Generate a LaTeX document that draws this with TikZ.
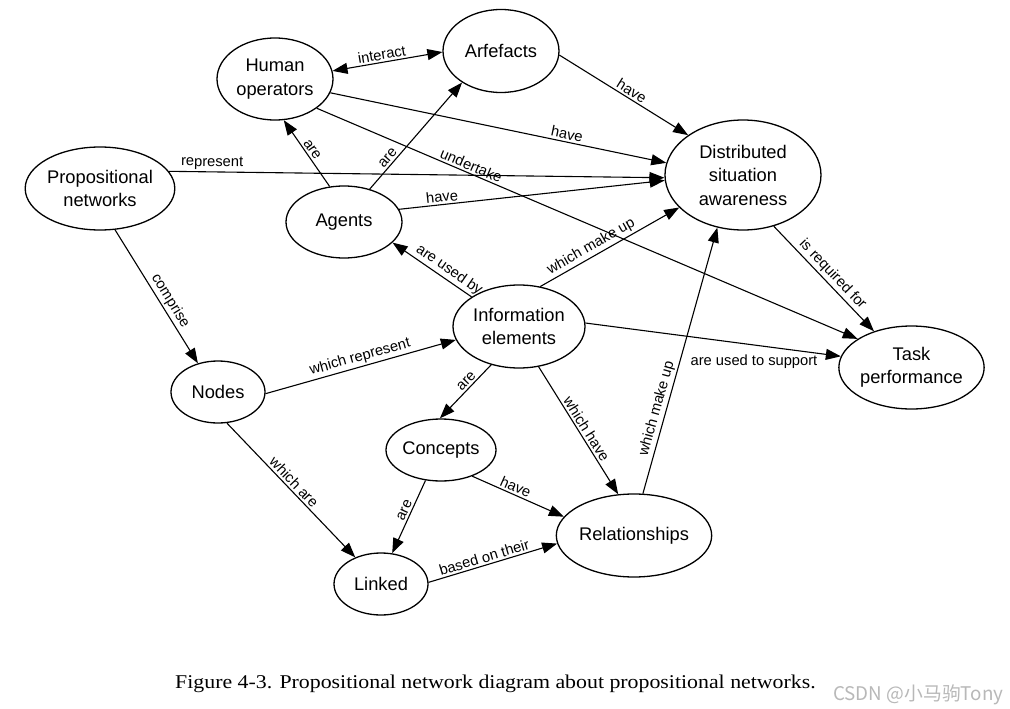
\documentclass[tikz,border=0pt]{standalone}
\usepackage{fontspec}
\setmainfont{Liberation Sans}
\newfontfamily\capfont[FakeStretch=1.12]{Liberation Serif}
\newfontfamily\cjkfont{Noto Sans CJK SC}
\usetikzlibrary{shapes.geometric,arrows.meta}
\begin{document}
\begin{tikzpicture}[x=1pt,y=-1pt,
  el/.style={draw, ellipse, line width=1.3pt, inner sep=0pt, align=center,
    font=\fontsize{18.3}{23.5}\selectfont},
  arr/.style={line width=1.1pt, -{Triangle[length=15pt,width=11pt]}},
  arrtwo/.style={line width=1.1pt, {Triangle[length=15pt,width=11pt]}-{Triangle[length=15pt,width=11pt]}},
  lab/.style={font=\fontsize{14.7}{16}\selectfont, sloped, above, inner sep=2pt}]
\useasboundingbox[fill=white] (0,0) rectangle (1010,709);

% nodes
\node[el, minimum width=116, minimum height=82] (ho) at (275,79) {Human\\operators};
\node[el, minimum width=116, minimum height=83] (af) at (501,51) {Arfefacts};
\node[el, minimum width=156, minimum height=110] (dsa) at (743,175) {Distributed\\situation\\awareness};
\node[el, minimum width=131, minimum height=83] (tp) at (911.5,367.5) {Task\\performance};
\node[el, minimum width=132, minimum height=83] (pn) at (100,188.5) {Propositional\\networks};
\node[el, minimum width=116, minimum height=72] (ag) at (344,222) {Agents};
\node[el, minimum width=94, minimum height=62] (nd) at (218,392) {Nodes};
\node[el, minimum width=132, minimum height=83] (ie) at (519,326.5) {Information\\elements};
\node[el, minimum width=110, minimum height=62] (co) at (441,450) {Concepts};
\node[el, minimum width=132, minimum height=83] (rel) at (634,535.5) {Relationships};
\node[el, minimum width=94, minimum height=62] (li) at (381,584) {Linked};

% connectors
\draw[arrtwo] (ho.8) -- (af.181) node[lab,pos=.46]{interact};
\draw[arr] (af.-4) -- (dsa.144) node[lab,pos=.53]{have};
\draw[arr] (ho.-14) -- (dsa.171) node[lab,pos=.70]{have};
\draw[arr] (pn.14) -- (dsa.182) node[lab,pos=.087]{represent};
\draw[arr] (ag.13) -- (dsa.184) node[lab,pos=.165]{have};
\draw[arr] (ho.-35) -- (tp.152) node[lab,pos=.28]{undertake};
\draw[arr] (ag.112) -- (ho.-78) node[lab,pos=.5]{are};
\draw[arr] (ag.52) -- (af.219) node[lab,pos=.25]{are};
\draw[arr] (ie.148) -- (ag.-23) node[lab,pos=.35]{are used by};
\draw[arr] (ie.62) -- (dsa.207) node[lab,pos=.40]{which make up};
\draw[arr] (dsa.-59) -- (tp.136) node[lab,pos=.52]{is required for};
\draw[arr] (ie.3) -- (tp.171) node[font=\fontsize{14.7}{16}\selectfont, pos=.66, below=6pt]{are used to support};
\draw[arr] (pn.-70) -- (nd.125) node[lab,pos=.57]{comprise};
\draw[arr] (nd.-2) -- (ie.192) node[lab,pos=.51]{which represent};
\draw[arr] (ie.234) -- (co.92) node[lab,pos=.39]{are};
\draw[arr] (ie.-64) -- (rel.111) node[lab,pos=.52]{which have};
\draw[arr] (rel.78) -- (dsa.244) node[lab,pos=.31]{which make up};
\draw[arr] (co.-40) -- (rel.165) node[lab,pos=.44]{have};
\draw[arr] (co.243) -- (li.70) node[lab,pos=.45]{are};
\draw[arr] (nd.-74) -- (li.134) node[lab,pos=.48]{which are};
\draw[arr] (li.2) -- (rel.186) node[lab,pos=.45]{based on their};

% caption and watermark
\node[anchor=base west, inner sep=0pt, font=\capfont\fontsize{19.5}{22}\selectfont] (cap) at (175,688)
  {Figure 4-3. Propositional network diagram about propositional networks.};
\node[anchor=base west, inner sep=0pt, text=black!28, font=\cjkfont\fontsize{18.8}{22}\selectfont] (wm) at (833,700)
  {CSDN @小马驹Tony};
\end{tikzpicture}
\end{document}
